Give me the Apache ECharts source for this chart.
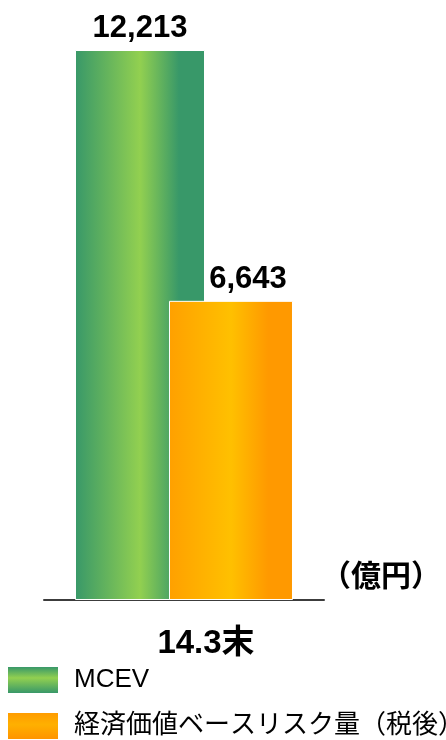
<!DOCTYPE html>
<html>
<head>
<meta charset="utf-8">
<script src="https://cdn.jsdelivr.net/npm/echarts@6/dist/echarts.min.js"></script>
<style>
html,body{margin:0;padding:0;background:#fff;}
#chart{width:446px;height:740px;}
</style>
</head>
<body>
<div id="chart"></div>
<script>
const categories = ['14.3末'];
const seriesNames = ['MCEV', '経済価値ベースリスク量（税後）'];
const mcevValues = [12213];
const riskValues = [6643];
const unitLabel = '（億円）';

const FONT = "'Liberation Sans', 'Noto Sans CJK JP', sans-serif";
const G = echarts.graphic.LinearGradient;

const greenBar = new G(0, 0, 1, 0, [
  {offset: 0, color: '#389869'},
  {offset: 0.5, color: '#92d050'},
  {offset: 0.8, color: '#389869'},
  {offset: 1, color: '#389869'}
]);
const orangeBar = new G(0, 0, 1, 0, [
  {offset: 0, color: '#ffa000'},
  {offset: 0.5, color: '#ffc000'},
  {offset: 0.8, color: '#ff9900'},
  {offset: 1, color: '#ff9900'}
]);
const greenLegend = new G(0, 0, 0, 1, [
  {offset: 0, color: '#389869'},
  {offset: 0.42, color: '#92d050'},
  {offset: 1, color: '#389869'}
]);
const orangeLegend = new G(0, 0, 0, 1, [
  {offset: 0, color: '#ff9c00'},
  {offset: 0.45, color: '#ffb000'},
  {offset: 1, color: '#ff9400'}
]);

const fmt = p => Number(p.value).toLocaleString('en-US');

const chart = echarts.init(document.getElementById('chart'));
chart.setOption({
  animation: false,
  backgroundColor: '#fff',
  title: {
    text: unitLabel,
    left: 316,
    top: 558,
    textStyle: {fontFamily: FONT, fontSize: 30, fontWeight: 'bold', color: '#000'}
  },
  legend: {
    orient: 'vertical',
    left: 8,
    top: 667,
    height: 200,
    width: 440,
    padding: 0,
    itemWidth: 50,
    itemHeight: 26,
    itemGap: 20,
    icon: 'rect',
    itemStyle: {borderWidth: 0},
    textStyle: {fontFamily: FONT, fontSize: 26, color: '#000', padding: [0, 0, 0, 11]},
    data: [
      {name: seriesNames[0], itemStyle: {color: greenLegend, borderWidth: 0}},
      {name: seriesNames[1], itemStyle: {color: orangeLegend, borderWidth: 0}}
    ]
  },
  grid: {left: 44, right: 122, top: 50, bottom: 140},
  xAxis: {
    type: 'category',
    data: categories,
    axisLine: {show: true, lineStyle: {color: '#3c3c3c', width: 2}},
    axisTick: {show: false},
    axisLabel: {
      fontFamily: FONT, fontSize: 33, fontWeight: 'bold', color: '#000',
      margin: 27, padding: [0, 0, 0, 44]
    }
  },
  yAxis: {
    type: 'value', min: 0, max: 12213, show: false,
    splitLine: {show: false}
  },
  series: [
    {
      name: seriesNames[0], type: 'bar', data: mcevValues,
      barWidth: 130, barGap: '-27.7%',
      itemStyle: {color: greenBar, borderColor: '#fff', borderWidth: 1},
      label: {show: true, position: 'top', distance: 6, formatter: fmt,
        fontFamily: FONT, fontSize: 31, fontWeight: 'bold', color: '#000'}
    },
    {
      name: seriesNames[1], type: 'bar', data: riskValues,
      barWidth: 124, barGap: '-27.7%',
      itemStyle: {color: orangeBar, borderColor: '#fff', borderWidth: 1},
      label: {show: true, position: 'top', distance: 6, offset: [17, 0], formatter: fmt,
        fontFamily: FONT, fontSize: 31, fontWeight: 'bold', color: '#000'}
    }
  ]
});
</script>
</body>
</html>
